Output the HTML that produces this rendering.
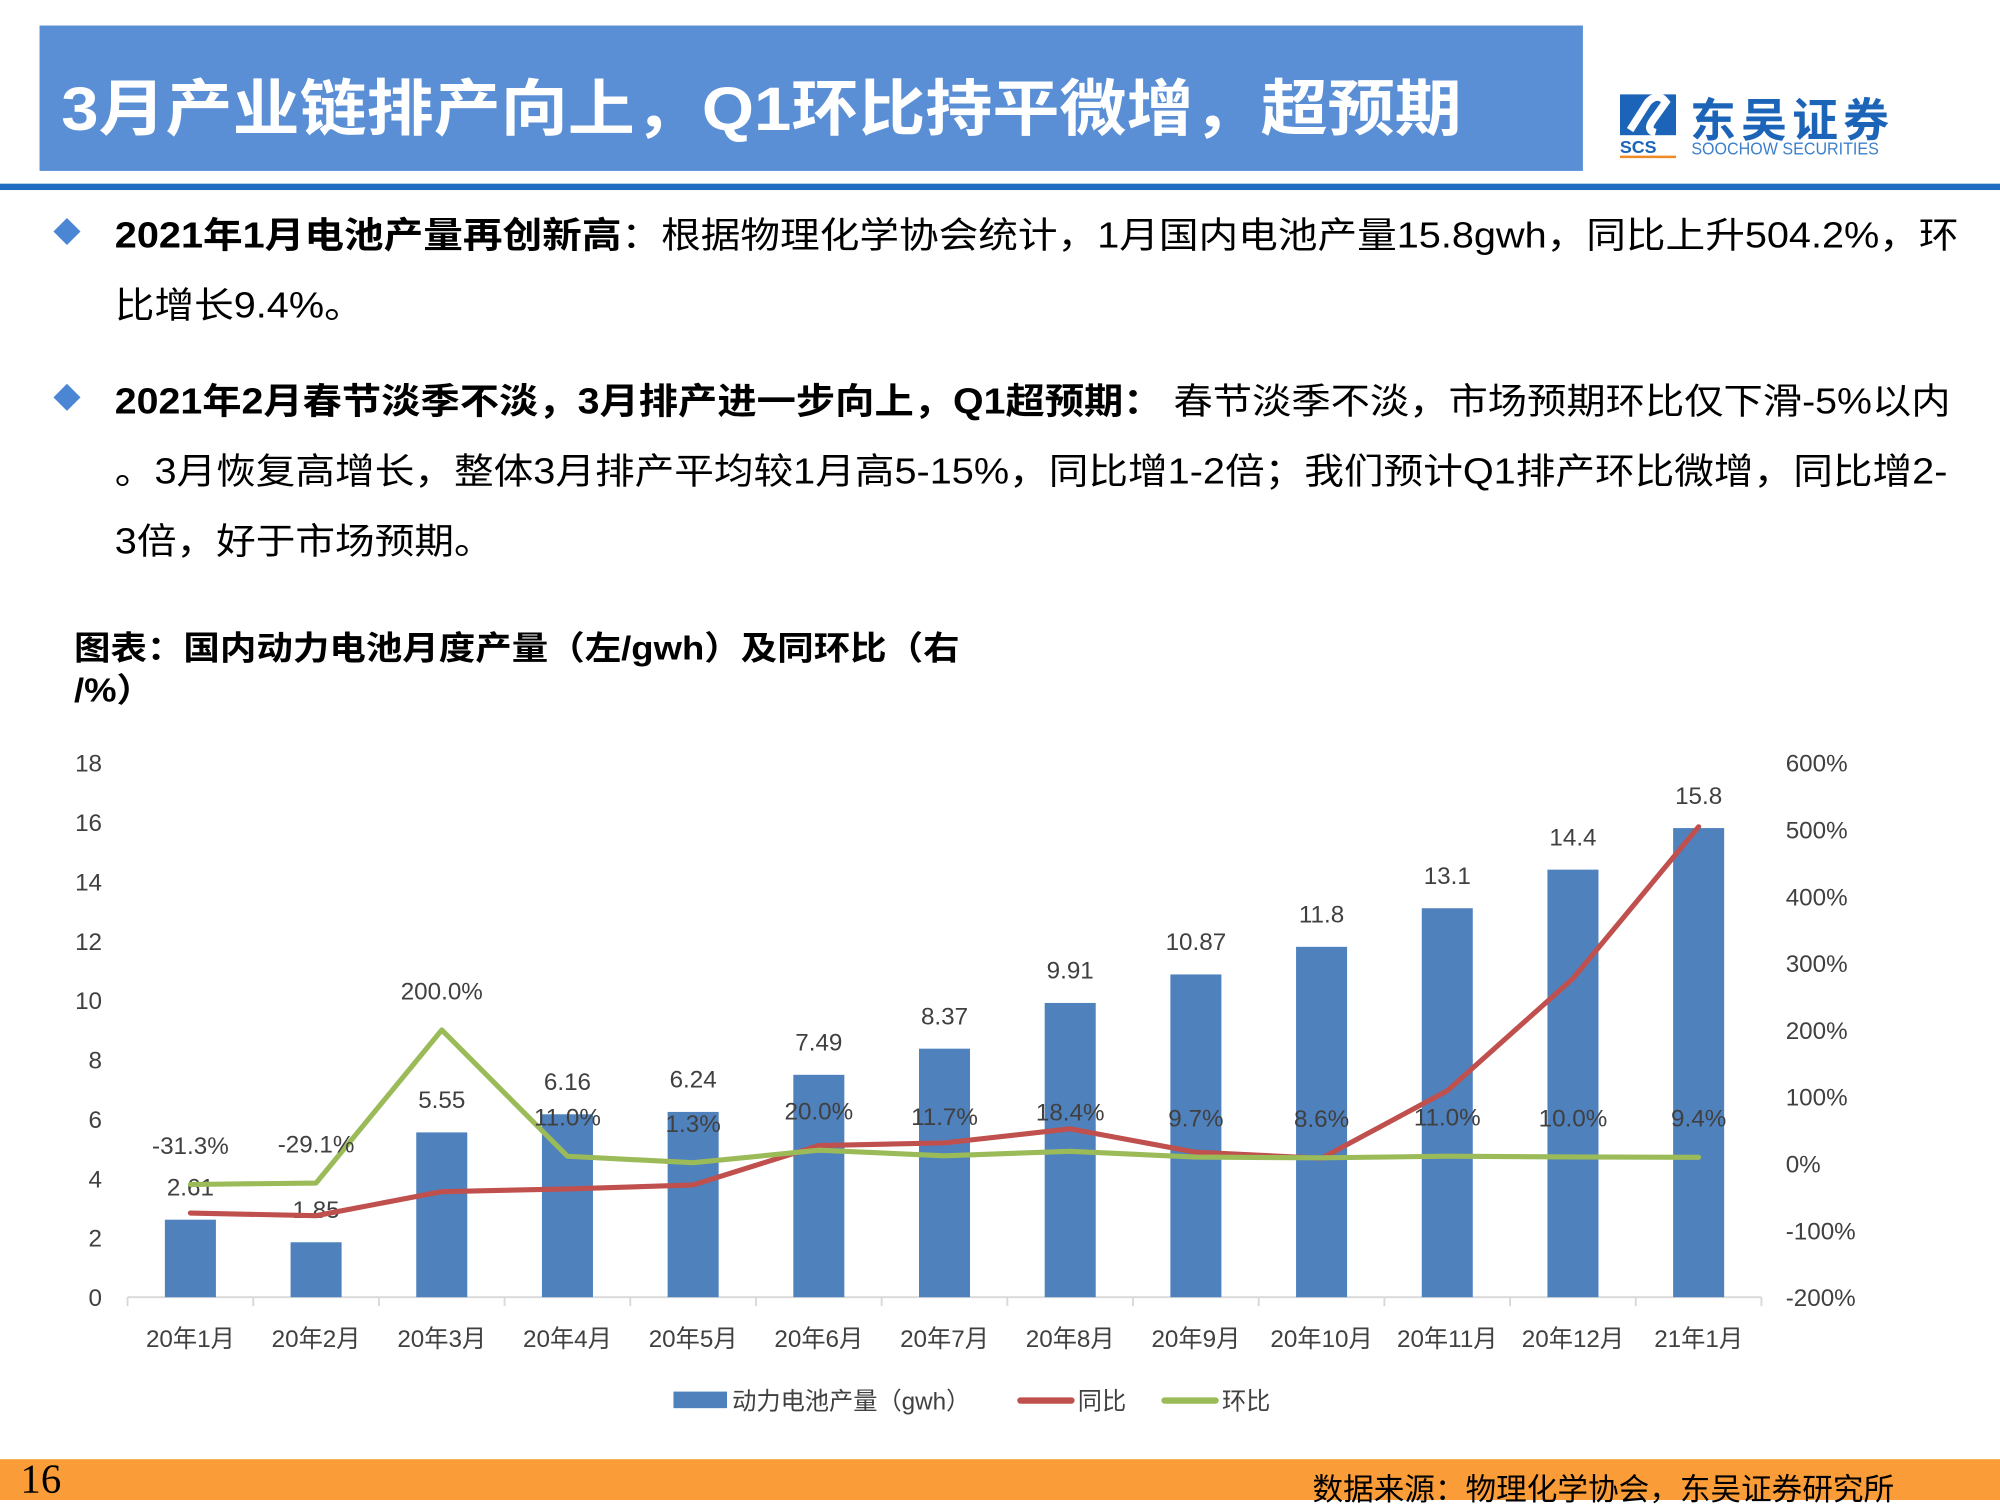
<!DOCTYPE html>
<html><head><meta charset="utf-8">
<style>
html,body{margin:0;padding:0;background:#fff;overflow:hidden}
#wrap{position:absolute;left:0;top:0;width:1568px;height:1176px;transform:scale(1.27551);transform-origin:0 0;font-family:"Liberation Sans","Noto Sans CJK SC",sans-serif;color:#000}
.abs{position:absolute;white-space:nowrap}
.bul{position:absolute;left:45px;width:15px;height:15px;background:#4A86D4;transform:rotate(45deg)}
.txt{position:absolute;left:90px;font-size:28px;white-space:nowrap;transform:scaleX(1.11);transform-origin:0 0}
</style></head><body>
<div id="wrap">
<div class="abs" style="left:31px;top:20px;width:1210px;height:114px;background:#5A8FD6"></div>
<div class="abs" style="left:48px;top:46px;font-size:48px;font-weight:bold;color:#fff;transform:scaleX(1.095);transform-origin:0 0">3月产业链排产向上，Q1环比持平微增，超预期</div>
<div class="abs" style="left:0;top:144px;width:1568px;height:5px;background:#1F6CC0"></div>
<div>
<svg class="abs" style="left:1270px;top:72px" width="60" height="52">
<rect x="0" y="2" width="44" height="32" fill="#1C64B8"/><path d="M8 30 L22 8 Q30 0 36 8 L26 22 Q20 30 28 32" stroke="#fff" stroke-width="6" fill="none"/>
<text x="0" y="48" font-size="14" font-weight="bold" fill="#1C64B8" font-family="Liberation Sans">SCS</text>
<rect x="0" y="50" width="44" height="3" fill="#F08A24"/></svg>
<div class="abs" style="left:1325px;top:66px;font-size:36px;font-weight:bold;color:#1C64B8;letter-spacing:4px">东吴证券</div>
<div class="abs" style="left:1326px;top:108px;font-size:14px;color:#3C7FCC;transform:scaleX(0.9);transform-origin:0 0">SOOCHOW SECURITIES</div>
</div>
<div class="bul" style="top:174px"></div>
<div class="txt" style="top:163px"><b>2021年1月电池产量再创新高</b>：根据物理化学协会统计，1月国内电池产量15.8gwh，同比上升504.2%，环</div>
<div class="txt" style="top:218px">比增长9.4%。</div>
<div class="bul" style="top:304px"></div>
<div class="txt" style="top:293px;transform:scaleX(1.10)"><b>2021年2月春节淡季不淡，3月排产进一步向上，Q1超预期：</b> 春节淡季不淡，市场预期环比仅下滑-5%以内</div>
<div class="txt" style="top:348px">。3月恢复高增长，整体3月排产平均较1月高5-15%，同比增1-2倍；我们预计Q1排产环比微增，同比增2-</div>
<div class="txt" style="top:403px">3倍，好于市场预期。</div>
<div class="abs" style="left:58px;top:492px;font-size:26px;font-weight:bold;line-height:33px;transform:scaleX(1.1);transform-origin:0 0">图表：国内动力电池月度产量（左/gwh）及同环比（右<br>/%）</div>
<svg id="chart" class="abs" style="left:0;top:560px" width="1568" height="580"></svg>
<div class="abs" style="left:0;top:1144px;width:1568px;height:32px;background:#FA9C38"></div>
<div class="abs" style="left:16px;top:1141px;font-size:32px;font-family:'Liberation Serif',serif">16</div>
<div class="abs" style="right:83px;top:1148px;font-size:24px">数据来源：物理化学协会，东吴证券研究所</div>
</div>
<script>
const categories=["20年1月","20年2月","20年3月","20年4月","20年5月","20年6月","20年7月","20年8月","20年9月","20年10月","20年11月","20年12月","21年1月"];
const production=[2.61,1.85,5.55,6.16,6.24,7.49,8.37,9.91,10.87,11.8,13.1,14.4,15.8];
const yoy=[-74,-78,-42,-38,-32,27,31,52,17,8,109,277,504.2];
const mom=[-31.3,-29.1,200,11.0,1.3,20.0,11.7,18.4,9.7,8.6,11.0,10.0,9.4];
const leftTicks=[0,2,4,6,8,10,12,14,16,18];
const rightTicks=[-200,-100,0,100,200,300,400,500,600];
const svg=document.getElementById('chart');
const NS='http://www.w3.org/2000/svg';
const OY=560, X0=100, X1=1381, YB=1017-OY, YT=598-OY;
const n=categories.length, step=(X1-X0)/n;
const xC=i=>X0+step*(i+0.5);
const yL=v=>YB-(v/18)*(YB-YT);
const yR=v=>YB-((v+200)/800)*(YB-YT);
function mk(tag,attrs,txt){const e=document.createElementNS(NS,tag);for(const k in attrs)e.setAttribute(k,attrs[k]);if(txt!==undefined)e.textContent=txt;svg.appendChild(e);return e;}
const F='Liberation Sans, Noto Sans CJK SC, sans-serif';
leftTicks.forEach(t=>{const e=mk('text',{x:80,y:yL(t)+7,'text-anchor':'end','font-size':19,fill:'#404040','font-family':F},t);

});
rightTicks.forEach(t=>{const e=mk('text',{x:1400,y:yR(t)+7,'font-size':19,fill:'#404040','font-family':F},t+'%');

});
const ax=mk('line',{x1:X0,x2:X1,y1:YB,y2:YB,stroke:'#D9D9D9','stroke-width':1.5});


for(let i=0;i<=n;i++){const tk=mk('line',{x1:X0+step*i,x2:X0+step*i,y1:YB,y2:YB+7,stroke:'#D9D9D9','stroke-width':1.5});

}
categories.forEach((c,i)=>{const e=mk('text',{x:xC(i),y:1056-OY,'text-anchor':'middle','font-size':19,fill:'#404040','font-family':F},c);

});
production.forEach((v,i)=>{const b=mk('rect',{x:xC(i)-20,y:yL(v),width:40,height:YB-yL(v),fill:'#4F81BD'});


const l=mk('text',{x:xC(i),y:yL(v)-19,'text-anchor':'middle','font-size':19,fill:'#404040','font-family':F},v);

});
const pY=yoy.map((v,i)=>xC(i)+','+yR(v)).join(' ');
const ly=mk('polyline',{points:pY,fill:'none',stroke:'#C0504D','stroke-width':4,'stroke-linejoin':'round','stroke-linecap':'round'});


const pM=mom.map((v,i)=>xC(i)+','+yR(v)).join(' ');
const lm=mk('polyline',{points:pM,fill:'none',stroke:'#9BBB59','stroke-width':4,'stroke-linejoin':'round','stroke-linecap':'round'});


mom.forEach((v,i)=>{const l=mk('text',{x:xC(i),y:yR(v)-24,'text-anchor':'middle','font-size':19,fill:'#404040','font-family':F},v.toFixed(1)+'%');

});
const LY=1098-OY;
const r1=mk('rect',{x:528,y:LY-7,width:42,height:13,fill:'#4F81BD'});


const t1=mk('text',{x:574,y:LY+7,'font-size':19,fill:'#404040','font-family':F},'动力电池产量（gwh）');


const r2=mk('line',{x1:800,x2:840,y1:LY,y2:LY,stroke:'#C0504D','stroke-width':5,'stroke-linecap':'round'});


const t2=mk('text',{x:845,y:LY+7,'font-size':19,fill:'#404040','font-family':F},'同比');


const r3=mk('line',{x1:913,x2:953,y1:LY,y2:LY,stroke:'#9BBB59','stroke-width':5,'stroke-linecap':'round'});


const t3=mk('text',{x:958,y:LY+7,'font-size':19,fill:'#404040','font-family':F},'环比');


</script>
</body></html>
